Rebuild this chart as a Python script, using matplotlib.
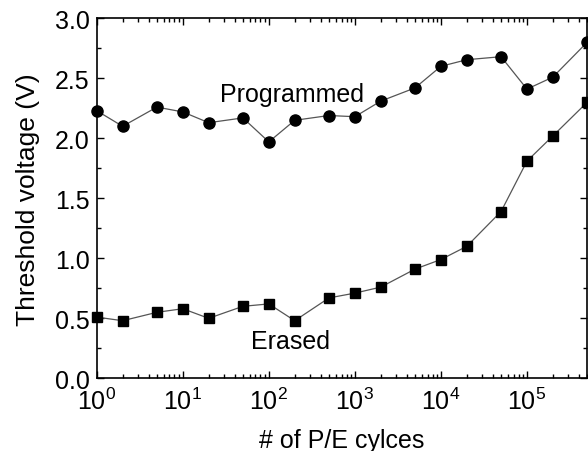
import matplotlib
matplotlib.use("Agg")
import matplotlib.pyplot as plt
from matplotlib.ticker import LogLocator, MultipleLocator, NullFormatter, FormatStrFormatter

plt.rcParams['font.family'] = ['Liberation Sans', 'DejaVu Sans']
plt.rcParams['mathtext.fontset'] = 'custom'
plt.rcParams['mathtext.rm'] = 'Liberation Sans'
plt.rcParams['mathtext.it'] = 'Liberation Sans:italic'
plt.rcParams['mathtext.bf'] = 'Liberation Sans:bold'

cycles = [1, 2, 5, 10, 20, 50, 100, 200, 500, 1000, 2000, 5000,
          1e4, 2e4, 5e4, 1e5, 2e5, 5e5]
programmed = [2.23, 2.10, 2.26, 2.22, 2.13, 2.17, 1.97, 2.15, 2.19, 2.18,
              2.31, 2.42, 2.60, 2.655, 2.68, 2.41, 2.51, 2.80]
erased = [0.51, 0.48, 0.55, 0.58, 0.50, 0.60, 0.62, 0.48, 0.67, 0.71,
          0.76, 0.91, 0.99, 1.10, 1.39, 1.81, 2.02, 2.30]

fig = plt.figure(figsize=(5.88, 4.52), dpi=100)
ax = fig.add_axes([0.1645, 0.1608, 0.834, 0.7965])

ax.plot(cycles, programmed, color='#555555', lw=0.9, marker='o', ms=8,
        mfc='black', mec='black', clip_on=False, zorder=3)
ax.plot(cycles, erased, color='#555555', lw=0.9, marker='s', ms=7.3,
        mfc='black', mec='black', clip_on=False, zorder=3)

ax.set_xscale('log')
ax.set_xlim(1, 5e5)
ax.set_ylim(0, 3.0)
ax.yaxis.set_major_locator(MultipleLocator(0.5))
ax.yaxis.set_minor_locator(MultipleLocator(0.25))
ax.yaxis.set_major_formatter(FormatStrFormatter('%.1f'))
ax.xaxis.set_major_locator(LogLocator(base=10, numticks=10))
ax.xaxis.set_minor_locator(LogLocator(base=10, subs=range(2, 10), numticks=20))
ax.xaxis.set_minor_formatter(NullFormatter())

ax.tick_params(which='both', direction='in', top=True, right=True,
               labelsize=18, width=1.0, color='black')
ax.tick_params(which='major', length=5)
ax.tick_params(which='minor', length=3)
ax.tick_params(axis='y', which='major', pad=5)
ax.tick_params(axis='x', which='major', pad=7)
for s in ax.spines.values():
    s.set_linewidth(1.2)

ax.set_xlabel('# of P/E cylces', fontsize=18, labelpad=10)
ax.set_ylabel('Threshold voltage (V)', fontsize=19, labelpad=11)

ax.text(27.2, 2.313, 'Programmed', fontsize=18, ha='left', va='baseline')
ax.text(62.2, 0.25, 'Erased', fontsize=18, ha='left', va='baseline')

fig.savefig('out.png', dpi=100)
